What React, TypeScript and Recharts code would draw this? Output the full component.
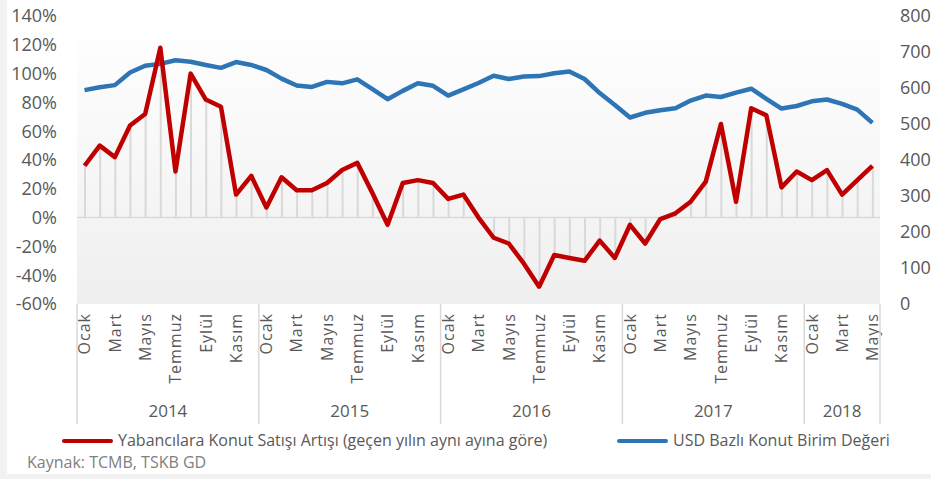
import React from "react"
import {
  Bar,
  CartesianGrid,
  ComposedChart,
  Line,
  ReferenceLine,
  XAxis,
  YAxis,
} from "recharts"

const monthNames = [
  "Ocak", "Şubat", "Mart", "Nisan", "Mayıs", "Haziran",
  "Temmuz", "Ağustos", "Eylül", "Ekim", "Kasım", "Aralık",
]
const years = [2014, 2015, 2016, 2017, 2018]
const monthsPerYear = [12, 12, 12, 12, 5]

// Yabancılara Konut Satışı Artışı (%), yıllık
const growth = [
  36, 50, 42, 64, 72, 118, 32, 100, 82, 77, 16, 29,
  7, 28, 19, 19, 24, 33, 38, 17, -5, 24, 26, 24,
  13, 16, 0, -14, -18, -32, -48, -26, -28, -30, -16, -28,
  -5, -18, -1, 3, 11, 25, 65, 11, 76, 71, 21, 32,
  26, 33, 16, 26, 36,
]

// USD Bazlı Konut Birim Değeri
const usdValue = [
  594, 602, 608, 643, 662, 667, 677, 673, 664, 656, 672, 664,
  650, 626, 607, 603, 617, 613, 624, 597, 569, 592, 613, 606,
  579, 596, 614, 634, 625, 632, 633, 641, 646, 625, 586, 553,
  518, 531, 538, 544, 565, 579, 575, 587, 598, 570, 543, 550,
  563, 568, 556, 540, 503,
]

const leftTicks = [-60, -40, -20, 0, 20, 40, 60, 80, 100, 120, 140]
const rightTicks = [0, 100, 200, 300, 400, 500, 600, 700, 800]

const rows: { key: string; month: number; yearIdx: number; growth: number; usd: number }[] = []
years.forEach((y, yi) => {
  for (let m = 0; m < monthsPerYear[yi]; m++) {
    const i = rows.length
    rows.push({ key: `${y}-${m}`, month: m, yearIdx: yi, growth: growth[i], usd: usdValue[i] })
  }
})

const W = 931
const H = 479
const LEFT_W = 77
const RIGHT_W = 51
const TOP = 16
const AXIS_H = 175
const BAND = (W - LEFT_W - RIGHT_W) / rows.length
const FONT = "'Open Sans', sans-serif"
const GREY_TEXT = "#595959"

function MonthTick(props: any) {
  const { x, y, payload } = props
  const row = rows[payload.index]
  if (!row) return null
  const parts: React.ReactNode[] = []
  if (row.month % 2 === 0) {
    parts.push(
      <text
        key="m"
        transform={`translate(${x},${y + 9}) rotate(-90)`}
        textAnchor="end"
        dy="0.36em"
        fontSize={16}
        letterSpacing={1}
        fill={GREY_TEXT}
        fontFamily={FONT}
      >
        {monthNames[row.month]}
      </text>
    )
  }
  if (row.month === 0) {
    const n = monthsPerYear[row.yearIdx]
    parts.push(
      <line key="s" x1={x - BAND / 2} x2={x - BAND / 2} y1={y} y2={y + 120} stroke="#d9d9d9" strokeWidth={1.5} />
    )
    parts.push(
      <text
        key="y"
        x={x + (BAND * (n - 1)) / 2}
        y={y + 107}
        dy="0.36em"
        textAnchor="middle"
        fontSize={17}
        fill={GREY_TEXT}
        fontFamily={FONT}
      >
        {years[row.yearIdx]}
      </text>
    )
  }
  if (payload.index === rows.length - 1) {
    parts.push(
      <line key="e" x1={x + BAND / 2} x2={x + BAND / 2} y1={y} y2={y + 120} stroke="#d9d9d9" strokeWidth={1.5} />
    )
  }
  return <g>{parts}</g>
}

export default function App() {
  return (
    <div style={{ position: "absolute", left: 0, top: 0, width: W, height: H, background: "#f2f2f2", fontFamily: FONT }}>
      <div style={{ position: "absolute", left: 7, top: 0, width: W - 7, height: 474, background: "#ffffff" }} />
      <div style={{ position: "absolute", left: 0, top: 0 }}>
        <ComposedChart width={W} height={H} data={rows} margin={{ top: TOP, right: 0, bottom: 0, left: 0 }}>
          <defs>
            <linearGradient id="plotBg" x1="0" y1="0" x2="0" y2="1">
              <stop offset="0%" stopColor="#ffffff" />
              <stop offset="100%" stopColor="#efefef" />
            </linearGradient>
          </defs>
          <CartesianGrid horizontal={false} vertical={false} fill="url(#plotBg)" stroke="none" />
          <XAxis
            dataKey="key"
            interval={0}
            height={AXIS_H}
            axisLine={false}
            tickLine={false}
            tickSize={0}
            tickMargin={0}
            tick={<MonthTick />}
          />
          <YAxis
            yAxisId="left"
            domain={[-60, 140]}
            ticks={leftTicks}
            width={LEFT_W}
            axisLine={false}
            tickLine={false}
            tickSize={0}
            tickMargin={20}
            tickFormatter={(v) => `${v}%`}
            tick={{ fontSize: 18, fill: GREY_TEXT, fontFamily: FONT }}
          />
          <YAxis
            yAxisId="right"
            orientation="right"
            domain={[0, 800]}
            ticks={rightTicks}
            width={RIGHT_W}
            axisLine={false}
            tickLine={false}
            tickSize={0}
            tickMargin={20}
            tick={{ fontSize: 18, fill: GREY_TEXT, fontFamily: FONT, textAnchor: "start" }}
          />
          <ReferenceLine yAxisId="left" y={0} stroke="#d9d9d9" strokeWidth={1.5} />
          <Bar yAxisId="left" dataKey="growth" barSize={2} fill="#d9d9d9" isAnimationActive={false} />
          <Line
            yAxisId="right"
            dataKey="usd"
            stroke="#2e75b6"
            strokeWidth={4.5}
            dot={false}
            strokeLinejoin="round"
            isAnimationActive={false}
          />
          <Line
            yAxisId="left"
            dataKey="growth"
            stroke="#c00000"
            strokeWidth={4.5}
            dot={false}
            strokeLinejoin="round"
            isAnimationActive={false}
          />
        </ComposedChart>
      </div>
      <div style={{ position: "absolute", left: 62, top: 439, width: 51, height: 4, background: "#c00000", borderRadius: 2 }} />
      <div style={{ position: "absolute", left: 118, top: 429, fontSize: 16, lineHeight: "22px", color: GREY_TEXT, whiteSpace: "nowrap" }}>
        Yabancılara Konut Satışı Artışı (geçen yılın aynı ayına göre)
      </div>
      <div style={{ position: "absolute", left: 617, top: 439, width: 51, height: 4, background: "#2e75b6", borderRadius: 2 }} />
      <div style={{ position: "absolute", left: 673, top: 429, fontSize: 16, lineHeight: "22px", color: GREY_TEXT, whiteSpace: "nowrap" }}>
        USD Bazlı Konut Birim Değeri
      </div>
      <div style={{ position: "absolute", left: 27, top: 451, fontSize: 16, lineHeight: "22px", color: "#808080", whiteSpace: "nowrap" }}>
        Kaynak: TCMB, TSKB GD
      </div>
    </div>
  )
}
